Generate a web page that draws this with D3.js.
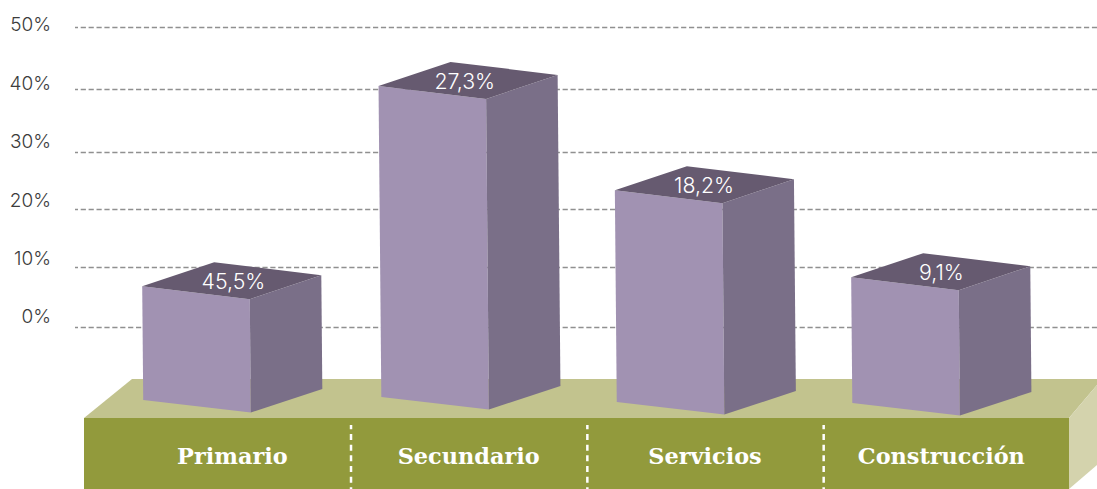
<!DOCTYPE html>
<html><head><meta charset="utf-8">
<script src="https://cdn.jsdelivr.net/npm/d3@7"></script>
<style>html,body{margin:0;padding:0;background:#fff}svg{display:block}</style>
</head><body><div id="c"></div>
<script>
const categories = ["Primario","Secundario","Servicios","Construcción"];
const barHeights = [6.8,40.5,23.3,8.3];
const barLabels = ["45,5%","27,3%","18,2%","9,1%"];
const axisTicks = [0,10,20,30,40,50];
const tickLabels = ["0%","10%","20%","30%","40%","50%"];
const gridPositions = [327,267,209,152,89,27];

const W=1097,H=489;
const svg=d3.select("#c").append("svg").attr("width",W).attr("height",H);
const sans="Inter, 'Open Sans', sans-serif", slab="'DejaVu Serif', serif";

const y=d3.scaleLinear().domain(axisTicks).range(gridPositions);
const labelY=d3.scaleLinear().domain([0,50]).range([316.5,24.5]);
const x=d3.scaleBand().domain(categories).range([114.7,1060]);
const baseY=[400,397,402,403];
const labelShift=[1,-4,-1,0];

// gridlines
svg.append("g").selectAll("line").data(axisTicks).join("line")
 .attr("x1",75).attr("x2",W).attr("y1",d=>y(d)+.5).attr("y2",d=>y(d)+.5)
 .attr("stroke","#909090").attr("stroke-width",1.3).attr("stroke-dasharray","5.2 2.7").attr("stroke-dashoffset",2.2);
// axis labels
svg.append("g").selectAll("text").data(axisTicks).join("text")
 .attr("x",51).attr("y",d=>labelY(d)).attr("dy","0.36em").attr("text-anchor","end")
 .attr("font-family",sans).attr("font-weight",300).attr("font-size",19).attr("fill","#3c3c3c")
 .text((d,i)=>tickLabels[i]);

// plinth
const pl=svg.append("g");
const L=84,R=1069,T=418,B=H,TT=379;
pl.append("polygon").attr("points",[[L,T],[132,TT],[W,TT],[W,TT+6],[R,T]].join(" ")).attr("fill","#c2c38e");
pl.append("polygon").attr("points",[[R,T],[W,TT+6],[W,B-24],[R,B]].join(" ")).attr("fill","#d4d3ad");
pl.append("rect").attr("x",L).attr("y",T).attr("width",R-L).attr("height",B-T).attr("fill","#929a3c");

// dividers
svg.append("g").selectAll("line").data(categories.slice(1)).join("line")
 .attr("x1",d=>x(d)).attr("x2",d=>x(d)).attr("y1",425).attr("y2",H)
 .attr("stroke","#fff").attr("stroke-width",2.5).attr("stroke-dasharray","6 4.67").attr("stroke-dashoffset",1.7);
// category labels
svg.append("g").selectAll("text").data(categories).join("text")
 .attr("x",d=>x(d)+x.bandwidth()/2-.5).attr("y",456).attr("dy","0.36em").attr("text-anchor","middle")
 .attr("font-family",slab).attr("font-weight",700).attr("font-size",22.4).attr("fill","#fff")
 .text(d=>d);

// bars
const dW=107.6,dD=72,sW=13,sD=24;
const bars=svg.append("g").selectAll("g").data(categories).join("g");
bars.each(function(c,i){
 const g=d3.select(this),x0=x(c)+27.5,yt=y(barHeights[i]),yb=baseY[i];
 const skew=(yb-yt)*0.009;
 const tl=[x0,yt],tm=[x0+dW,yt+sW],tr=[x0+dW+dD-.5,yt+sW-sD],tb=[x0+dD,yt-sD];
 const bl=[x0+skew,yb],bm=[x0+dW+skew,yb+sW-.5],br=[x0+dW+dD-.5+skew,yb-11];
 const pts=a=>a.join(" ");
 g.append("polygon").attr("points",pts([tl,tm,bm,bl])).attr("fill","#a192b2");
 g.append("polygon").attr("points",pts([tm,tr,br,bm])).attr("fill","#7a6f88");
 g.append("polygon").attr("points",pts([tl,tb,tr,tm])).attr("fill","#665a70");
 g.append("text").attr("x",x0+90.2+labelShift[i]).attr("y",yt-5).attr("dy","0.36em").attr("text-anchor","middle")
  .attr("font-family",sans).attr("font-weight",300).attr("font-size",21.3).attr("fill","#fff").text(barLabels[i]);
});
</script></body></html>
